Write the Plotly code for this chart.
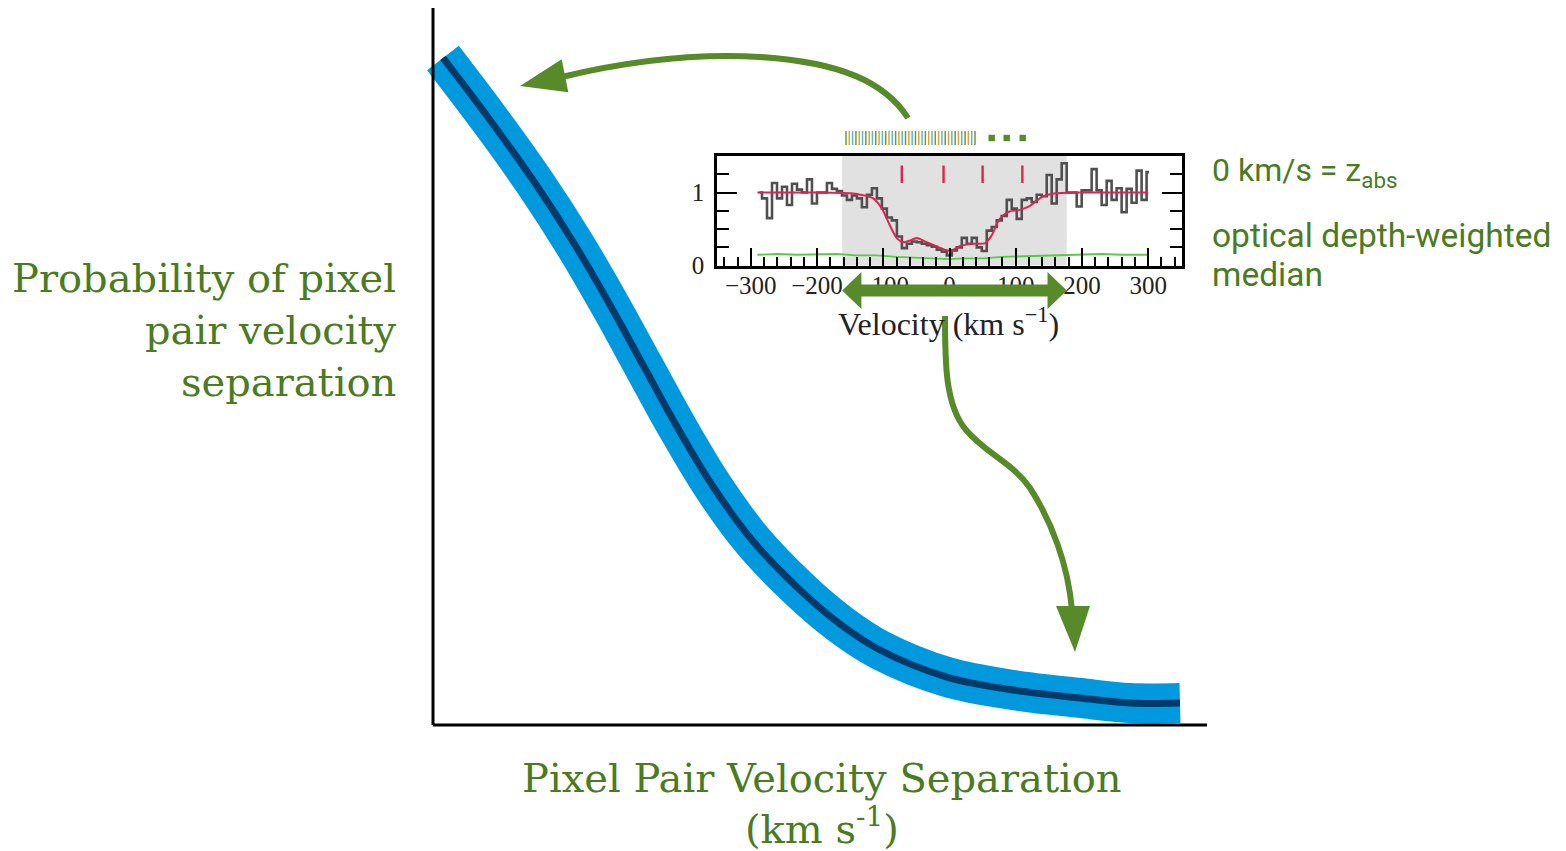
import plotly.graph_objects as go

W, H = 1566, 851

# ---------------- data ----------------
# main schematic curve (normalized separation / probability)
sep = [0.0129, 0.0736, 0.1318, 0.1835, 0.2287, 0.2713, 0.3140, 0.3605, 0.4121,
       0.4742, 0.5258, 0.5775, 0.6641, 0.7494, 0.8359, 0.9005, 0.9651]
prob = [0.9303, 0.8438, 0.7559, 0.6695, 0.5858, 0.5021, 0.4184, 0.3347, 0.2580,
        0.1883, 0.1409, 0.1046, 0.0669, 0.0488, 0.0377, 0.0307, 0.0307]

# inset absorption spectrum (pixel centres, km/s) and normalised flux
vel = [-286.8, -279.3, -271.7, -264.2, -256.6, -249.1, -241.6, -234.0, -226.5, -218.9,
       -211.4, -203.9, -196.3, -188.8, -181.2, -173.7, -166.2, -158.6, -151.1, -143.5,
       -136.0, -128.5, -120.9, -113.4, -105.8, -98.3, -90.8, -83.2, -75.7, -68.1,
       -60.6, -53.1, -45.5, -38.0, -30.4, -22.9, -15.4, -7.8, -0.3, 7.3,
       14.8, 22.3, 29.9, 37.4, 45.0, 52.5, 60.0, 67.6, 75.1, 82.7,
       90.2, 97.7, 105.3, 112.8, 120.4, 127.9, 135.4, 143.0, 150.5, 158.1,
       165.6, 173.1, 180.7, 188.2, 195.8, 203.3, 210.8, 218.4, 225.9, 233.5,
       241.0, 248.5, 256.1, 263.6, 271.2, 278.7, 286.2, 293.8, 301.3]
flux = [1.00, 0.92, 0.65, 1.13, 0.92, 1.08, 0.83, 1.12, 1.04, 1.00,
        1.18, 0.85, 1.00, 1.00, 1.13, 1.05, 1.02, 0.96, 0.90, 0.96,
        0.92, 0.80, 0.97, 1.06, 0.92, 0.78, 0.66, 0.62, 0.40, 0.24,
        0.30, 0.33, 0.32, 0.30, 0.28, 0.26, 0.22, 0.19, 0.14, 0.21,
        0.25, 0.38, 0.30, 0.38, 0.25, 0.20, 0.48, 0.53, 0.62, 0.68,
        0.90, 0.78, 0.64, 0.90, 0.92, 0.87, 0.97, 0.95, 1.24, 0.85,
        1.18, 1.40, 1.00, 1.00, 0.81, 1.03, 1.03, 1.32, 1.03, 0.83,
        1.16, 0.90, 1.06, 0.73, 1.05, 0.86, 1.30, 0.90, 1.28]

model_v = [-290, -200, -150, -134, -115, -102, -89, -79, -69, -58, -49, -39, -29, -16, -4,
           6, 16, 36, 54, 64, 75, 90, 105, 120, 140, 160, 190, 300]
model_f = [1.00, 1.00, 0.99, 0.97, 0.92, 0.78, 0.53, 0.37, 0.32, 0.35, 0.38, 0.34, 0.30, 0.25, 0.21,
           0.22, 0.27, 0.30, 0.31, 0.42, 0.63, 0.74, 0.76, 0.81, 0.94, 0.99, 1.00, 1.00]

err_v = [-290, -260, -230, -200, -170, -140, -110, -80, -50, -20, 0, 20, 50, 80, 110,
         140, 170, 200, 230, 260, 300]
err_f = [0.15, 0.16, 0.15, 0.15, 0.16, 0.14, 0.14, 0.12, 0.11, 0.10, 0.09, 0.10, 0.10, 0.12, 0.13,
         0.14, 0.15, 0.15, 0.16, 0.15, 0.15]

comp_v = [-72, -9, 50, 110]          # component positions (km/s)
window = [-162, 177]                  # velocity window (km/s)

# ---------------- styling ----------------
GREEN_TXT = "#4b7b1f"
GREEN_ARR = "#578a29"
SLAB = "DejaVu Serif"
CM = "Liberation Serif"

def px(x):
    return x / W

def py(y):
    return 1 - y / H

fig = go.Figure()

# main curve: wide blue band plus dark centre line
fig.add_trace(go.Scatter(x=sep, y=prob, mode="lines",
                         line=dict(color="#0099dd", width=40, shape="spline", smoothing=1.0),
                         hoverinfo="skip", showlegend=False))
fig.add_trace(go.Scatter(x=sep, y=prob, mode="lines",
                         line=dict(color="#003a6b", width=7, shape="spline", smoothing=1.0),
                         hoverinfo="skip", showlegend=False))

# inset spectrum
fig.add_trace(go.Scatter(x=err_v, y=err_f, mode="lines", xaxis="x2", yaxis="y2",
                         line=dict(color="#55cc44", width=1.8), hoverinfo="skip", showlegend=False))
fig.add_trace(go.Scatter(x=vel, y=flux, mode="lines", xaxis="x2", yaxis="y2",
                         line=dict(color="#505050", width=2.6, shape="hvh"),
                         hoverinfo="skip", showlegend=False))
fig.add_trace(go.Scatter(x=model_v, y=model_f, mode="lines", xaxis="x2", yaxis="y2",
                         line=dict(color="#dd2255", width=2.0, shape="spline", smoothing=0.8),
                         hoverinfo="skip", showlegend=False))
cx, cy = [], []
for v in comp_v:
    cx += [v, v, None]
    cy += [1.13, 1.37, None]
fig.add_trace(go.Scatter(x=cx, y=cy, mode="lines", xaxis="x2", yaxis="y2",
                         line=dict(color="#dd2255", width=2.4), hoverinfo="skip", showlegend=False))

shapes = []
# main axes lines
shapes.append(dict(type="line", xref="x", yref="y", x0=0, y0=0, x1=0, y1=1,
                   line=dict(color="black", width=3)))
shapes.append(dict(type="line", xref="x", yref="y", x0=0, y0=0, x1=1, y1=0,
                   line=dict(color="black", width=3)))
# shaded velocity window in inset
shapes.append(dict(type="rect", xref="x2", yref="y2", x0=window[0], x1=window[1], y0=0, y1=1.5,
                   fillcolor="#e1e1e1", line=dict(width=0), layer="below"))

# double-headed arrow across the velocity window
head = 29
yc, hs, hh = 290.5, 6, 18.5
path = (f"M {window[0]},{py(yc)} L {window[0]+head},{py(yc-hh)} L {window[0]+head},{py(yc-hs)} "
        f"L {window[1]-head},{py(yc-hs)} L {window[1]-head},{py(yc-hh)} L {window[1]},{py(yc)} "
        f"L {window[1]-head},{py(yc+hh)} L {window[1]-head},{py(yc+hs)} L {window[0]+head},{py(yc+hs)} "
        f"L {window[0]+head},{py(yc+hh)} Z")
shapes.append(dict(type="path", xref="x2", yref="paper", path=path,
                   fillcolor=GREEN_ARR, line=dict(width=0), layer="above"))

def P(x, y):
    return f"{px(x):.5f},{py(y):.5f}"

# curved arrow to top of curve
shapes.append(dict(type="path", xref="paper", yref="paper",
                   path=f"M {P(908,118)} C {P(885,82)} {P(840,62)} {P(760,57)} C {P(690,53)} {P(620,63)} {P(562,77)}",
                   line=dict(color=GREEN_ARR, width=6), layer="above"))
shapes.append(dict(type="path", xref="paper", yref="paper",
                   path=f"M {P(520,86)} L {P(561.7,59.3)} L {P(568.3,92.3)} Z",
                   fillcolor=GREEN_ARR, line=dict(width=0), layer="above"))
# curved arrow to tail of curve
shapes.append(dict(type="path", xref="paper", yref="paper",
                   path=f"M {P(945,316)} C {P(945,362)} {P(945,405)} {P(966,430)} C {P(985,453)} {P(1012,462)} {P(1030,488)} C {P(1052,522)} {P(1068,565)} {P(1072,610)}",
                   line=dict(color=GREEN_ARR, width=6), layer="above"))
shapes.append(dict(type="path", xref="paper", yref="paper",
                   path=f"M {P(1075,652)} L {P(1056,606)} L {P(1090,606)} Z",
                   fillcolor=GREEN_ARR, line=dict(width=0), layer="above"))

# pixel icon above inset
icon_colors = ["#6f9a3a", "#d6a640", "#62b4cc"]
n_icon = 40
for i in range(n_icon):
    x = 846 + i * (975 - 846) / (n_icon - 1)
    shapes.append(dict(type="line", xref="paper", yref="paper",
                       x0=px(x), x1=px(x), y0=py(131), y1=py(145),
                       line=dict(color=icon_colors[i % 3], width=1.5)))
for x in [991.7, 1006.7, 1022.7]:
    shapes.append(dict(type="rect", xref="paper", yref="paper",
                       x0=px(x - 3.2), x1=px(x + 3.2), y0=py(141.2), y1=py(134.8),
                       fillcolor=GREEN_ARR, line=dict(width=0)))

annotations = []
def txt(text, x, y, size, family, color=GREEN_TXT, xanchor="left"):
    annotations.append(dict(text=text, x=px(x), y=py(y), xref="paper", yref="paper",
                            xanchor=xanchor, yanchor="middle", showarrow=False,
                            font=dict(size=size, family=family, color=color)))

# y label
txt("Probability of pixel", 398, 278, 40, SLAB, xanchor="right")
txt("pair velocity", 398, 330, 40, SLAB, xanchor="right")
txt("separation", 398, 382, 40, SLAB, xanchor="right")
# x label
txt("Pixel Pair Velocity Separation", 822, 778, 40, SLAB, xanchor="center")
txt("(km s<sup>-1</sup>)", 822, 826, 40, SLAB, xanchor="center")
# right notes
txt("0 km/s = z<sub>abs</sub>", 1210, 172, 32, "Roboto")
txt("optical depth-weighted", 1210, 235, 33.5, "Roboto")
txt("median", 1210, 274, 33.5, "Roboto")
# inset x-title
txt("Velocity (km s<sup>\u22121</sup>)", 948, 322, 32, CM, color="#222222", xanchor="center")

fig.update_layout(
    width=W, height=H,
    margin=dict(l=0, r=0, t=0, b=0, pad=0, autoexpand=False),
    paper_bgcolor="white", plot_bgcolor="white",
    showlegend=False,
    xaxis=dict(domain=[0, 1], range=[-433 / 774, (W - 433) / 774], visible=False,
               automargin=False),
    yaxis=dict(domain=[0, 1], range=[(725 - H) / 717, 725 / 717], visible=False,
               automargin=False),
    xaxis2=dict(domain=[px(717), px(1182)], anchor="y2", range=[-351, 351], automargin=False,
                showline=True, linecolor="black", linewidth=2.5, mirror=True,
                ticks="inside", ticklen=18, tickwidth=1.5, tickcolor="black",
                tick0=0, dtick=100, showgrid=False, zeroline=False,
                ticklabelstandoff=-4,
                minor=dict(ticks="inside", ticklen=9, dtick=20, tickcolor="black", tickwidth=1.5,
                           showgrid=False),
                tickfont=dict(family=CM, size=25, color="#222222")),
    yaxis2=dict(domain=[py(265.7), py(156)], anchor="x2", range=[0, 1.5], automargin=False,
                showline=True, linecolor="black", linewidth=2.5, mirror="ticks",
                ticks="inside", ticklen=20, tickwidth=1.5, tickcolor="black",
                tickvals=[0, 1], showgrid=False, zeroline=False,
                ticklabelstandoff=5,
                minor=dict(ticks="inside", ticklen=12, tick0=0, dtick=0.25, tickcolor="black",
                           tickwidth=1.5, showgrid=False),
                tickfont=dict(family=CM, size=25, color="#222222")),
    shapes=shapes,
    annotations=annotations,
)

fig.write_html(
    "out.html",
    config={"displayModeBar": False},
    post_script=("document.documentElement.style.margin='0px';"
                 "document.body.style.margin='0px';"
                 "document.documentElement.style.overflow='hidden';"
                 "document.body.style.overflow='hidden';"),
)
